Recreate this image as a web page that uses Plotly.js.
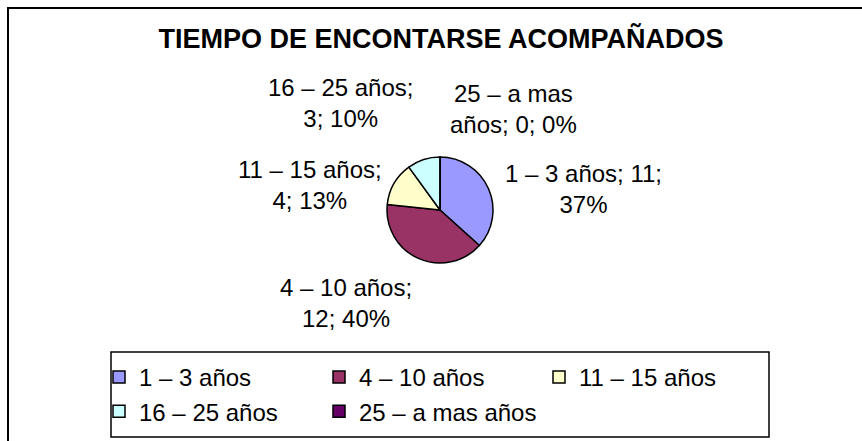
<!DOCTYPE html>
<html><head><meta charset="utf-8">
<script src="https://cdn.plot.ly/plotly-3.0.1.min.js"></script>
<style>html,body{margin:0;padding:0;background:#fff}#chart{width:862px;height:441px}</style>
</head><body><div id="chart"></div>
<script>
const categories = ['1 – 3 años', '4 – 10 años', '11 – 15 años', '16 – 25 años', '25 – a mas años'];
const counts = [11, 12, 4, 3, 0];
const sliceColors = ['#9999FF', '#993366', '#FFFFCC', '#CCFFFF', '#660066'];
const chartTitle = 'TIEMPO DE ENCONTARSE ACOMPAÑADOS';

const W = 862, H = 441;
const px = x => x / W, py = y => 1 - y / H;
const FONT = '"Liberation Sans", Arial, sans-serif';
const total = counts.reduce((a, b) => a + b, 0);

function wrap(s, max) {
  const words = s.split(' ');
  const lines = [];
  let line = '';
  words.forEach(w => {
    if (line === '') line = w;
    else if ((line + ' ' + w).length > max) { lines.push(line); line = w; }
    else line += ' ' + w;
  });
  if (line) lines.push(line);
  return lines.join('<br>');
}

// label block centers (pixels)
const labelPos = [[583, 189], [346, 303], [310, 185], [340, 103], [513, 109]];

const annotations = categories.map((c, i) => ({
  text: wrap(`${c}; ${counts[i]}; ${Math.round(counts[i] / total * 100)}%`, 15),
  x: px(labelPos[i][0]), y: py(labelPos[i][1]),
  xref: 'paper', yref: 'paper', showarrow: false,
  xanchor: 'center', yanchor: 'middle', align: 'center',
  font: { family: FONT, size: 24, color: '#000' }
}));

const trace = {
  type: 'pie',
  labels: categories,
  values: counts,
  sort: false,
  direction: 'clockwise',
  rotation: 0,
  textinfo: 'none',
  hoverinfo: 'none',
  marker: { colors: sliceColors, line: { color: '#000', width: 1.5 } },
  domain: { x: [px(387), px(493)], y: [py(263), py(157)] }
};

const layout = {
  width: W, height: H,
  margin: { l: 0, r: 0, t: 0, b: 0 },
  paper_bgcolor: '#fff',
  title: {
    text: '<b>' + chartTitle + '</b>',
    x: px(441), xanchor: 'center', xref: 'paper',
    y: py(39), yanchor: 'middle', yref: 'container',
    font: { family: FONT, size: 27, color: '#000' }
  },
  showlegend: true,
  legend: {
    orientation: 'h',
    x: px(99), xanchor: 'left', xref: 'paper',
    y: py(355), yanchor: 'top', yref: 'paper',
    entrywidth: 175, entrywidthmode: 'pixels',
    traceorder: 'normal',
    font: { family: FONT, size: 24, color: '#000' },
    bgcolor: 'rgba(0,0,0,0)', borderwidth: 0
  },
  annotations: annotations,
  shapes: [
    { type: 'line', xref: 'paper', yref: 'paper', x0: px(7), x1: px(880), y0: py(8), y1: py(8), line: { color: '#000', width: 2 } },
    { type: 'line', xref: 'paper', yref: 'paper', x0: px(8), x1: px(8), y0: py(7), y1: py(460), line: { color: '#000', width: 2 } },
    { type: 'rect', xref: 'paper', yref: 'paper', x0: px(111), x1: px(769), y0: py(352), y1: py(437), line: { color: '#000', width: 1.5 }, fillcolor: 'rgba(0,0,0,0)' }
  ]
};

Plotly.newPlot('chart', [trace], layout, { displayModeBar: false, staticPlot: true });
</script>
</body></html>
